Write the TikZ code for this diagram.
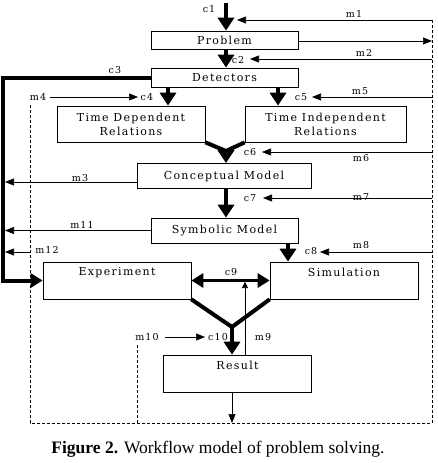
\documentclass[tikz,border=0pt]{standalone}
\usepackage{fontspec}
\setmainfont{Liberation Serif}
\newfontfamily\dfont[LetterSpace=12]{DejaVu Serif}
\usetikzlibrary{arrows.meta}
\begin{document}
\begin{tikzpicture}[x=1pt,y=-1pt,
  box/.style={draw, line width=0.7pt, inner sep=0pt, align=center,
    font=\dfont\fontsize{11}{14}\selectfont},
  toptext/.style={font=\dfont\fontsize{11}{14}\selectfont, anchor=north, inner sep=0pt, yshift=-6pt},
  lab/.style={font=\dfont\fontsize{9.5}{10}\selectfont, inner sep=0pt},
  thinarr/.style={line width=0.6pt, -{Triangle[length=9pt,width=7pt]}},
  thkarr/.style={line width=4pt, -{Triangle[length=13pt,width=16pt]}},
  thk/.style={line width=4pt, line join=miter},
  dashline/.style={line width=0.6pt, dash pattern=on 3pt off 2pt}]
\useasboundingbox (0,0) rectangle (438,463);

% boxes
\node[box, minimum width=147, minimum height=18] (prob) at (224.5,40) {Problem};
\node[box, minimum width=147, minimum height=19] (det) at (224.5,77.5) {Detectors};
\node[box, minimum width=148, minimum height=36] (tdr) at (131,124) {Time Dependent\\Relations};
\node[box, minimum width=161, minimum height=36] (tir) at (325.5,124) {Time Independent\\Relations};
\node[box, minimum width=174, minimum height=25] (con) at (224,176) {Conceptual Model};
\node[box, minimum width=147, minimum height=25] (sym) at (224.5,230.5) {Symbolic Model};
\node[box, minimum width=148, minimum height=37, label={[toptext]north:Experiment}] (exp) at (117,280.5) {};
\node[box, minimum width=148, minimum height=37, label={[toptext]north:Simulation}] (sim) at (344,280.5) {};
\node[box, minimum width=148, minimum height=37, label={[toptext]north:Result}] (res) at (237.5,373.5) {};

% coordinates
\coordinate (xa) at (226,0);
\coordinate (xd) at (168,0);
\coordinate (xi) at (278,0);
\coordinate (xs) at (288,0);
\coordinate (xr) at (232,0);
\coordinate (xm9) at (245,0);
\coordinate (top) at (226,3);
\coordinate (R1) at (432,20);
\coordinate (R2) at (432,41);
\coordinate (R3) at (432,59);
\coordinate (R4) at (432,97);
\coordinate (R5) at (432,152);
\coordinate (R6) at (432,198);
\coordinate (R7) at (432,252);
\coordinate (RB) at (432,423);
\coordinate (LB) at (30,423);
\coordinate (LT) at (30,105);
\coordinate (MB) at (137,423);
\coordinate (MT) at (137,345);
\coordinate (BOT) at (232,423);
\coordinate (c3a) at (3,77.5);
\coordinate (c3b) at (3,280.5);
\coordinate (vcon) at (226,151);
\coordinate (vres) at (232,327);
\coordinate (m9top) at (245,282);
\coordinate (m4s) at (50,97);
\coordinate (m4e) at (138,97);
\coordinate (m10s) at (165,337);
\coordinate (m10e) at (205,337);
\coordinate (m12s) at (30,252);
\coordinate (m12e) at (5,252);
\coordinate (m3e) at (5,182);
\coordinate (m11e) at (5,230.5);

% dashed frame
\draw[dashline] (R1) -- (RB) -- (LB) -- (LT);
\draw[dashline] (MT) -- (MB);

% thin arrows
\draw[thinarr] (R1) -- (237,20);
\draw[thinarr] (prob.east |- R2) -- (R2);
\draw[thinarr] (R3) -- (250,59);
\draw[thinarr] (R4) -- (312,97);
\draw[thinarr] (R5) -- (262,152);
\draw[thinarr] (R6) -- (263,198);
\draw[thinarr] (R7) -- (320,252);
\draw[thinarr] (m4s) -- (m4e);
\draw[thinarr] (m10s) -- (m10e);
\draw[thinarr] (m12s) -- (m12e);
\draw[thinarr] (con.west |- m3e) -- (m3e);
\draw[thinarr] (sym.west) -- (m11e);

% thick arrows
\draw[thkarr] (top) -- (prob.north -| xa);
\draw[thkarr] (prob.south -| xa) -- (det.north -| xa);
\draw[thkarr] (det.south -| xd) -- (tdr.north -| xd);
\draw[thkarr] (det.south -| xi) -- (tir.north -| xi);
\draw[thk] (tdr.south east) -- (vcon) -- (tir.south west);
\draw[thkarr] (vcon) -- (con.north -| xa);
\draw[thkarr] (con.south -| xa) -- (sym.north -| xa);
\draw[thkarr] (sym.south -| xs) -- (sim.north -| xs);
\draw[line width=4pt, -{Triangle[length=12pt,width=14pt]}] (det.west) -- (c3a) -- (c3b) -- (exp.west);
\draw[line width=3pt, {Triangle[length=12pt,width=14pt]}-{Triangle[length=12pt,width=14pt]}] (exp.east) -- (sim.west);
\draw[thk] (exp.south east) -- (vres) -- (sim.south west);
\draw[thkarr] (vres) -- (res.north -| xr);
\draw[line width=0.6pt, -{Triangle[length=6pt,width=6pt]}] (res.north -| xm9) -- (m9top);
\draw[thinarr] (res.south -| xr) -- (BOT);

% labels
\node[lab] (lc1) at (209,9) {c1};
\node[lab] (lm1) at (354,14) {m1};
\node[lab] (lc2) at (238,60) {c2};
\node[lab] (lm2) at (364,53) {m2};
\node[lab] (lc3) at (115,70) {c3};
\node[lab] (lm4) at (38,97) {m4};
\node[lab] (lc4) at (147,97) {c4};
\node[lab] (lc5) at (301,97) {c5};
\node[lab] (lm5) at (360,91) {m5};
\node[lab] (lc6) at (250,152) {c6};
\node[lab] (lm6) at (361,158) {m6};
\node[lab] (lm3) at (80,178) {m3};
\node[lab] (lc7) at (250,198) {c7};
\node[lab] (lm7) at (361,197) {m7};
\node[lab] (lm11) at (82,225) {m11};
\node[lab] (lm12) at (47,250) {m12};
\node[lab] (lc8) at (311,251) {c8};
\node[lab] (lm8) at (361,245) {m8};
\node[lab] (lc9) at (231,272) {c9};
\node[lab] (lm9) at (263,337) {m9};
\node[lab] (lm10) at (147,337) {m10};
\node[lab] (lc10) at (218,337) {c10};

% caption
\node[font=\fontsize{17.5}{21}\selectfont, inner sep=0pt] (cap) at (218,449) {\textbf{Figure 2.} Workflow model of problem solving.};
\end{tikzpicture}
\end{document}
